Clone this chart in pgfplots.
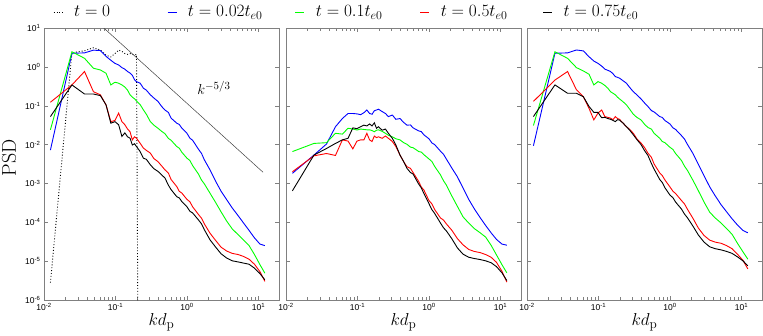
\documentclass[border=0pt]{standalone}
\usepackage{fontspec}
\usepackage{pgfplots}
\usepackage{pgfplotstable}
\pgfplotsset{compat=1.18}
\newfontfamily\arial{Liberation Sans}

% columns: k, t=0.02, t=0.1, t=0.5, t=0.75
\pgfplotstableread{
k b g r d
0.0123 7.2e-3 2.40e-2 0.123 5.25e-2
0.0246 2.24 2.45 0.343 0.343
0.0369 2.29 1.66 0.759 0.200
0.0492 2.69 0.92 0.229 0.200
0.0615 2.63 0.832 0.191 0.182
0.0738 1.86 0.684 0.105 0.105
0.0861 1.48 0.343 3.89e-2 3.55e-2
0.0984 1.23 0.402 4.17e-2 3.89e-2
0.1107 1.12 0.380 6.46e-2 3.24e-2
0.123 0.955 0.343 3.89e-2 1.62e-2
0.1353 0.871 0.302 3.24e-2 2.0e-2
0.1476 0.759 0.251 2.51e-2 1.585e-2
0.1599 0.692 0.191 2.14e-2 1.46e-2
0.1722 0.603 0.166 1.32e-2 9.77e-3
0.1845 0.468 0.151 1.585e-2 1.05e-2
0.1968 0.417 0.133 1.46e-2 8.91e-3
0.2214 0.380 0.107 1.08e-2 6.61e-3
0.246 0.282 7.80e-2 8.13e-3 4.47e-3
0.2706 0.251 6.03e-2 7.08e-3 4.17e-3
0.3075 0.191 3.89e-2 6.03e-3 3.02e-3
0.3444 0.158 3.16e-2 4.37e-3 2.40e-3
0.3936 0.129 2.63e-2 3.63e-3 2.04e-3
0.4428 9.55e-2 2.19e-2 2.82e-3 1.66e-3
0.492 7.76e-2 1.91e-2 2.24e-3 1.38e-3
0.55 6.7e-2 1.44e-2 1.85e-3 9.0e-4
0.6 4.79e-2 1.29e-2 1.26e-3 6.92e-4
0.72 3.55e-2 8.91e-3 8.32e-4 4.57e-4
0.78 3.3e-2 8.1e-3 6.3e-4 4.25e-4
0.85 2.63e-2 6.31e-3 5.62e-4 3.39e-4
1.0 1.95e-2 4.47e-3 3.89e-4 2.51e-4
1.1 1.46e-2 3.88e-3 3.37e-4 1.92e-4
1.2 1.29e-2 2.88e-3 2.51e-4 1.74e-4
1.45 7.59e-3 1.74e-3 1.585e-4 1.15e-4
1.6 5.9e-3 1.22e-3 1.27e-4 9.1e-5
1.75 4.07e-3 9.77e-4 9.12e-5 6.46e-5
2.1 2.24e-3 5.62e-4 5.25e-5 3.55e-5
2.5 1.17e-3 3.31e-4 3.47e-5 2.34e-5
3.0 6.31e-4 1.86e-4 2.29e-5 1.55e-5
3.6 3.80e-4 1.07e-4 1.82e-5 1.20e-5
4.3 2.34e-4 6.76e-5 1.585e-5 1.02e-5
5.2 1.48e-4 4.79e-5 1.48e-5 9.55e-6
6.2 9.55e-5 3.47e-5 1.32e-5 8.91e-6
7.4 6.17e-5 2.51e-5 1.12e-5 8.32e-6
8.8 3.98e-5 1.48e-5 8.32e-6 6.61e-6
10.5 2.75e-5 8.13e-6 5.37e-6 4.79e-6
12.3 2.51e-5 4.90e-6 3.02e-6 3.31e-6
}\panelA

\pgfplotstableread{
k b g r d
0.0123 1.82e-3 6.61e-3 2.0e-3 6.46e-4
0.0246 5.37e-3 1.07e-2 5.13e-3 5.37e-3
0.0369 1.035e-2 1.12e-2 5.89e-3 7.94e-3
0.0492 2.88e-2 1.95e-2 5.25e-3 1.07e-2
0.0615 4.68e-2 1.86e-2 1.32e-2 1.32e-2
0.0738 6.31e-2 2.63e-2 1.23e-2 1.45e-2
0.0861 6.31e-2 2.51e-2 7.76e-3 2.69e-2
0.0984 6.17e-2 2.37e-2 1.23e-2 2.57e-2
0.1107 5.89e-2 2.51e-2 1.32e-2 2.88e-2
0.123 6.61e-2 2.45e-2 1.32e-2 3.16e-2
0.1353 7.76e-2 2.40e-2 1.95e-2 3.02e-2
0.1476 6.31e-2 2.40e-2 1.32e-2 3.39e-2
0.1599 6.03e-2 2.29e-2 1.20e-2 3.02e-2
0.1722 7.41e-2 2.14e-2 1.66e-2 3.63e-2
0.1845 7.76e-2 2.34e-2 1.51e-2 2.63e-2
0.1968 8.13e-2 2.40e-2 1.585e-2 2.88e-2
0.2214 7.08e-2 2.19e-2 1.45e-2 2.34e-2
0.246 6.31e-2 1.95e-2 1.66e-2 2.51e-2
0.2706 5.25e-2 1.74e-2 1.45e-2 1.95e-2
0.3075 5.75e-2 1.585e-2 1.20e-2 1.45e-2
0.3444 4.47e-2 1.41e-2 8.91e-3 9.77e-3
0.3936 4.68e-2 1.32e-2 5.37e-3 5.37e-3
0.4428 3.72e-2 1.12e-2 3.63e-3 3.63e-3
0.492 3.16e-2 1.02e-2 2.69e-3 2.45e-3
0.55 3.2e-2 8.6e-3 2.45e-3 1.92e-3
0.6 2.69e-2 8.32e-3 1.91e-3 1.74e-3
0.72 2.24e-2 6.61e-3 1.12e-3 9.55e-4
0.78 2.16e-2 6.4e-3 8.1e-4 7.75e-4
0.85 1.78e-2 5.50e-3 6.76e-4 5.50e-4
1.0 1.41e-2 4.27e-3 3.63e-4 3.02e-4
1.1 1.1e-2 3.67e-3 2.98e-4 2.11e-4
1.2 1.0e-2 2.75e-3 2.14e-4 1.70e-4
1.45 6.76e-3 1.66e-3 1.29e-4 9.55e-5
1.6 5.6e-3 1.17e-3 1.14e-4 7.2e-5
1.75 4.27e-3 9.12e-4 9.12e-5 6.03e-5
2.1 2.45e-3 4.68e-4 6.17e-5 3.72e-5
2.5 1.48e-3 2.57e-4 3.80e-5 2.19e-5
3.0 7.59e-4 1.38e-4 2.63e-5 1.51e-5
3.6 3.89e-4 9.55e-5 2.0e-5 1.26e-5
4.3 2.24e-4 6.92e-5 1.78e-5 1.17e-5
5.2 1.32e-4 5.37e-5 1.66e-5 1.10e-5
6.2 8.32e-5 4.17e-5 1.48e-5 1.02e-5
7.4 5.37e-5 2.57e-5 1.26e-5 9.12e-6
8.8 3.63e-5 1.45e-5 9.33e-6 7.24e-6
10.5 2.75e-5 8.13e-6 5.50e-6 5.01e-6
12.3 2.57e-5 5.01e-6 2.88e-6 3.16e-6
}\panelB

\pgfplotstableread{
k b g r d
0.0123 9.33e-3 3.09e-2 0.129 5.25e-2
0.0246 2.24 2.45 0.457 0.343
0.0369 2.29 1.66 0.759 0.209
0.0492 2.72 0.955 0.257 0.209
0.0615 2.57 0.785 0.170 0.170
0.0738 1.82 0.646 8.51e-2 9.55e-2
0.0861 1.41 0.343 4.32e-2 6.76e-2
0.0984 1.23 0.417 6.46e-2 6.76e-2
0.1107 1.05 0.380 7.76e-2 4.90e-2
0.123 0.871 0.331 5.25e-2 5.01e-2
0.1353 0.813 0.282 5.01e-2 4.68e-2
0.1476 0.759 0.229 4.79e-2 4.47e-2
0.1599 0.661 0.209 4.37e-2 4.17e-2
0.1722 0.562 0.191 5.25e-2 3.89e-2
0.1845 0.537 0.166 4.68e-2 4.37e-2
0.1968 0.513 0.150 4.47e-2 4.27e-2
0.2214 0.437 0.126 3.55e-2 3.55e-2
0.246 0.380 0.105 2.88e-2 2.88e-2
0.2706 0.302 8.32e-2 2.51e-2 2.40e-2
0.3075 0.229 6.03e-2 1.95e-2 1.78e-2
0.3444 0.191 5.01e-2 1.41e-2 1.35e-2
0.3936 0.150 4.32e-2 1.10e-2 1.0e-2
0.4428 0.117 3.31e-2 8.32e-3 6.92e-3
0.492 9.55e-2 2.75e-2 6.03e-3 5.25e-3
0.55 7.5e-2 2.5e-2 4.7e-3 3.26e-3
0.6 6.92e-2 1.95e-2 3.16e-3 2.34e-3
0.72 5.25e-2 1.45e-2 1.86e-3 1.26e-3
0.78 5.0e-2 1.2e-2 1.6e-3 1.06e-3
0.85 4.17e-2 1.12e-2 1.23e-3 7.76e-4
1.0 3.39e-2 8.51e-3 8.13e-4 5.01e-4
1.1 2.7e-2 7.5e-3 6.3e-4 4.3e-4
1.2 2.45e-2 5.89e-3 5.50e-4 3.31e-4
1.45 1.70e-2 3.89e-3 3.63e-4 2.19e-4
1.6 1.38e-2 2.77e-3 2.96e-4 1.62e-4
1.75 1.02e-2 2.19e-3 2.19e-4 1.32e-4
2.1 5.89e-3 1.20e-3 1.26e-4 7.94e-5
2.5 3.09e-3 6.46e-4 7.08e-5 4.68e-5
3.0 1.585e-3 3.31e-4 4.57e-5 3.09e-5
3.6 8.13e-4 1.82e-4 3.47e-5 2.34e-5
4.3 4.79e-4 1.29e-4 3.09e-5 2.09e-5
5.2 2.82e-4 9.55e-5 2.88e-5 1.95e-5
6.2 1.86e-4 6.92e-5 2.51e-5 1.78e-5
7.4 1.23e-4 4.90e-5 2.09e-5 1.585e-5
8.8 8.51e-5 2.88e-5 1.51e-5 1.29e-5
10.5 6.17e-5 1.74e-5 1.05e-5 1.02e-5
12.3 5.37e-5 1.12e-5 6.31e-6 7.59e-6
}\panelC

% initial spectrum, t = 0
\pgfplotstableread{
k y
0.0123 2.8e-6
0.0246 2.3
0.0369 2.6
0.0492 3.1
0.0615 2.7
0.0738 2.0
0.0861 1.8
0.0984 2.2
0.1107 2.7
0.123 2.5
0.1353 2.2
0.1476 2.1
0.1599 2.2
0.1722 2.1
0.1845 2.0
0.1968 2.1
0.2091 1e-9
}\initial

\pgfplotsset{
  every axis/.append style={
    scale only axis, width=235pt, height=272pt,
    xmin=0.01, xmax=19.4, ymin=1e-6, ymax=10,
    xtick={0.01,0.1,1,10},
    xticklabels={10\textsuperscript{-2},10\textsuperscript{-1},10\textsuperscript{0},10\textsuperscript{1}},
    minor xtick={0.02,0.03,0.04,0.05,0.06,0.07,0.08,0.09,0.2,0.3,0.4,0.5,0.6,0.7,0.8,0.9,2,3,4,5,6,7,8,9},
    ytick={1e-6,1e-5,1e-4,1e-3,1e-2,1e-1,1,10},
    yminorticks=false,
    tick label style={font=\arial\fontsize{8.5}{9}\selectfont},
    axis line style={gray},
    tick style={gray},
    tick align=inside,
    xlabel={$kd_{\mathrm{p}}$},
    xlabel style={font=\fontsize{19}{21}\selectfont, at={(0.5,-0.081)}, anchor=center},
  },
}

\begin{document}
\begin{tikzpicture}
\begin{loglogaxis}[at={(0pt,0pt)},
    yticklabels={10\textsuperscript{-6},10\textsuperscript{-5},10\textsuperscript{-4},10\textsuperscript{-3},10\textsuperscript{-2},10\textsuperscript{-1},10\textsuperscript{0},10\textsuperscript{1}},
    ylabel={PSD},
    ylabel style={font=\fontsize{20}{22}\selectfont, at={(-0.149,0.522)}, anchor=center},
    legend columns=5,
    legend image code/.code={\draw[#1] (0pt,0pt) -- (9pt,0pt);},
    legend style={at={(0,1)}, anchor=west, xshift=9pt, yshift=16pt,
      draw=none, fill=none, inner sep=0pt,
      font=\fontsize{17}{19}\selectfont,
      /tikz/column sep=0pt},
  ]
  \addplot[line width=0.9pt, black, dotted] table[x=k, y=y] {\initial};
  \addplot[line width=0.9pt, blue] table[x=k, y=b] {\panelA};
  \addplot[line width=0.9pt, green] table[x=k, y=g] {\panelA};
  \addplot[line width=0.9pt, red] table[x=k, y=r] {\panelA};
  \addplot[line width=0.9pt, black] table[x=k, y=d] {\panelA};
  \addplot[black!75, line width=0.5pt, forget plot] coordinates {(0.0687,10) (11.6,1.94e-3)};
  \node[font=\fontsize{15}{17}\selectfont] at (axis cs:2.39,0.29) {$k^{-5/3}$};
  \legend{{\makebox[100pt][l]{\hspace{9pt}$t=0$}}, {\makebox[114pt][l]{\hspace{9pt}$t=0.02t_{e0}$}}, {\makebox[111pt][l]{\hspace{9pt}$t=0.1t_{e0}$}}, {\makebox[109pt][l]{\hspace{9pt}$t=0.5t_{e0}$}}, {\hspace{9pt}$t=0.75t_{e0}$}}
\end{loglogaxis}

\begin{loglogaxis}[at={(242pt,0pt)}, yticklabels={}]
  \addplot[line width=0.9pt, blue] table[x=k, y=b] {\panelB};
  \addplot[line width=0.9pt, green] table[x=k, y=g] {\panelB};
  \addplot[line width=0.9pt, red] table[x=k, y=r] {\panelB};
  \addplot[line width=0.9pt, black] table[x=k, y=d] {\panelB};
\end{loglogaxis}

\begin{loglogaxis}[at={(483pt,0pt)}, yticklabels={}]
  \addplot[line width=0.9pt, blue] table[x=k, y=b] {\panelC};
  \addplot[line width=0.9pt, green] table[x=k, y=g] {\panelC};
  \addplot[line width=0.9pt, red] table[x=k, y=r] {\panelC};
  \addplot[line width=0.9pt, black] table[x=k, y=d] {\panelC};
\end{loglogaxis}

\pgfresetboundingbox
\useasboundingbox (-44pt,-35pt) rectangle (719pt,300pt);
\end{tikzpicture}
\end{document}
